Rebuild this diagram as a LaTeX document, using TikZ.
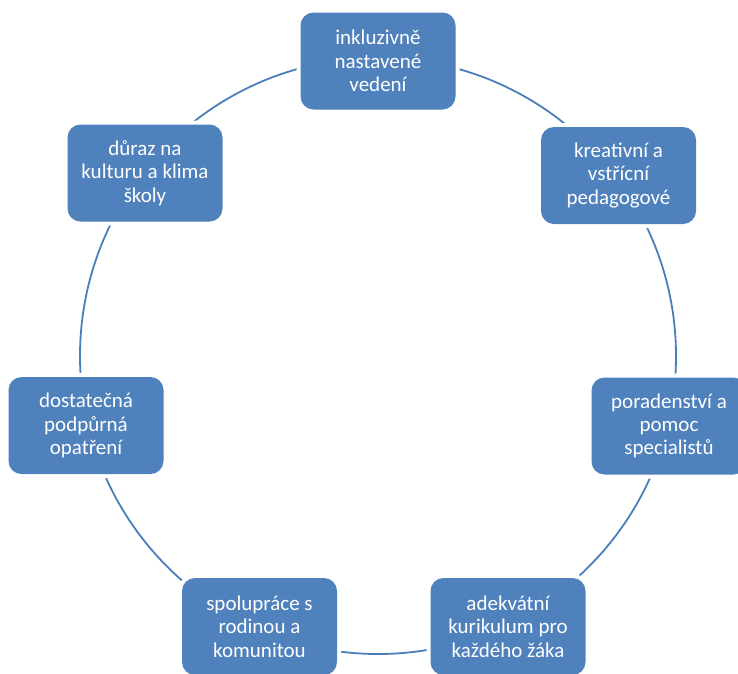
\documentclass[tikz,border=0pt]{standalone}
\usepackage{fontspec}
\setmainfont{Carlito}
\definecolor{boxblue}{HTML}{4F81BD}
\definecolor{ringblue}{HTML}{4A7EBB}
\begin{document}
\begin{tikzpicture}[x=1pt,y=-1pt,
  cbox/.style={rectangle, rounded corners=13pt, fill=boxblue, text=white,
    minimum width=155pt, minimum height=97pt, inner sep=0pt, align=center,
    font=\fontsize{21}{23.3}\selectfont,
    preaction={draw=white, line width=8pt}},
  ringstyle/.style={circle, draw=ringblue, line width=1.8pt, minimum size=596pt, inner sep=0pt}]
\useasboundingbox (0,0) rectangle (738,673);
\clip (0,0) rectangle (738,673);
\node[ringstyle] (ring) at (378,356) {};
\node[cbox] (n1) at (378,61) {inkluzivně\\nastavené\\vedení};
\node[cbox] (n2) at (618.5,175.5) {kreativní a\\vstřícní\\pedagogové};
\node[cbox] (n3) at (669,426) {poradenství a\\pomoc\\specialistů};
\node[cbox] (n4) at (508,626.5) {adekvátní\\kurikulum pro\\každého žáka};
\node[cbox] (n5) at (259.5,626.5) {spolupráce s\\rodinou a\\komunitou};
\node[cbox] (n6) at (86,425.5) {dostatečná\\podpůrná\\opatření};
\node[cbox] (n7) at (145,173) {důraz na\\kulturu a klima\\školy};
\end{tikzpicture}
\end{document}
